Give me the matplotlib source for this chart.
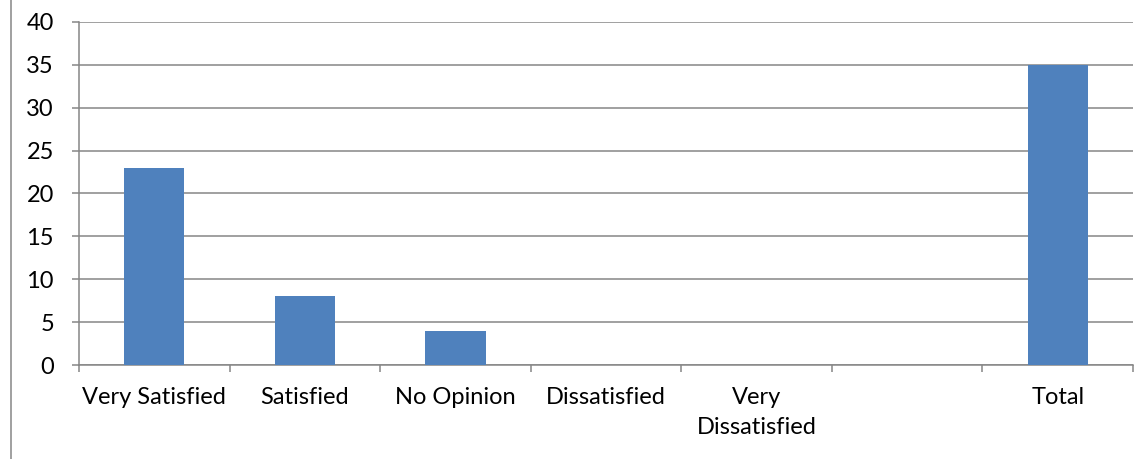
import matplotlib
matplotlib.use("Agg")
import matplotlib.pyplot as plt
from matplotlib.lines import Line2D

categories = ["Very Satisfied", "Satisfied", "No Opinion", "Dissatisfied", "Very\nDissatisfied", "", "Total"]
responses = [23, 8, 4, 0, 0, 0, 35]
y_ticks = [0, 5, 10, 15, 20, 25, 30, 35, 40]

plt.rcParams['font.family'] = ['Lato', 'DejaVu Sans']
grid_col = "#868686"
fs = 17

fig = plt.figure(figsize=(11.45, 4.59), dpi=100)
ax = fig.add_axes([79 / 1145, 1 - 365 / 459, (1133 - 79) / 1145, (365 - 22) / 459])

pos = list(range(len(categories)))
ax.bar(pos, responses, width=0.4, color="#4F81BD", zorder=3)

ax.set_xlim(-0.5, len(categories) - 0.5)
ax.set_ylim(0, 40)
ax.set_yticks(y_ticks)
ax.set_yticklabels([str(v) for v in y_ticks], fontsize=fs)
ax.set_xticks(pos)
ax.set_xticklabels(categories, fontsize=fs, linespacing=1.5)
ax.set_xticks([p - 0.5 for p in range(len(categories) + 1)], minor=True)

ax.tick_params(axis="x", which="major", length=0, pad=16)
ax.tick_params(axis="x", which="minor", length=5, width=1.1, color=grid_col, direction="out")
ax.tick_params(axis="y", length=5, width=1.1, color=grid_col, direction="out", pad=13)
ax.yaxis.grid(True, color=grid_col, linewidth=1.1, zorder=0)
ax.set_axisbelow(True)

for side in ["top", "right"]:
    ax.spines[side].set_visible(False)
for side in ["left", "bottom"]:
    ax.spines[side].set_color(grid_col)
    ax.spines[side].set_linewidth(1.1)

# thin frame line at the left edge of the picture
fig.add_artist(Line2D([11 / 1145, 11 / 1145], [0, 1], color=grid_col, linewidth=1.1))

fig.savefig("out.png", dpi=100)
